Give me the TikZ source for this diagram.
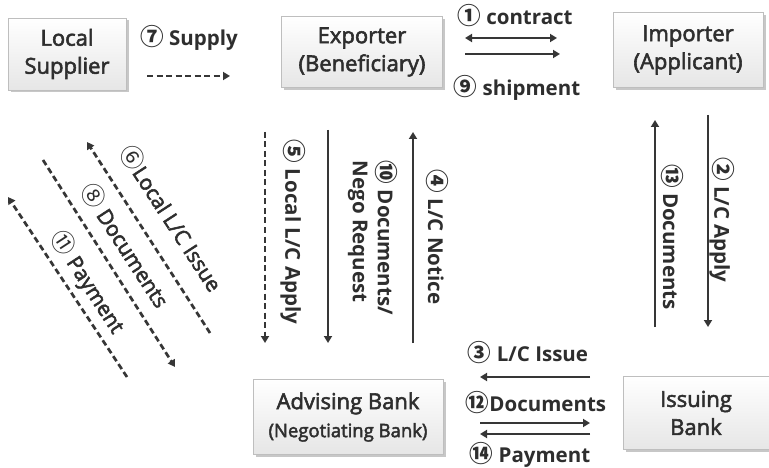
\documentclass[tikz,border=0pt]{standalone}
\usepackage{fontspec}
\setmainfont{Open Sans}
\newfontfamily\midfont[FakeBold=2.5]{Open Sans}
\newfontfamily\cnum{Noto Sans CJK KR}
\usetikzlibrary{shadows,arrows.meta}
\definecolor{inkgray}{HTML}{2E2E2E}
\definecolor{arrowgray}{HTML}{363636}
\definecolor{boxedge}{HTML}{BEBEBE}
\definecolor{boxlow}{HTML}{E6E6E6}
\newcommand\cn[1]{{\cnum\scalebox{1.15}{#1}}}
\tikzset{
  party/.style={draw=boxedge, line width=0.8pt, top color=white, bottom color=boxlow,
    align=center, text=inkgray, inner sep=0pt,
    font=\midfont\fontsize{22}{28}\selectfont,
    drop shadow={shadow xshift=2.5pt, shadow yshift=-2.5pt, fill=black, opacity=0.22}},
  lab/.style={text=inkgray, font=\fontsize{20.5}{25}\selectfont\bfseries, inner sep=0pt},
  dlab/.style={text=inkgray, font=\midfont\fontsize{21}{25}\selectfont, inner sep=0pt, rotate=-57},
  vlab/.style={lab, rotate=-90},
  flow/.style={draw=arrowgray, line width=2.7pt, -{Triangle[length=7pt,width=8pt]}},
  both/.style={flow, {Triangle[length=7pt,width=8pt]}-{Triangle[length=7pt,width=8pt]}},
  dflow/.style={flow, dash pattern=on 6pt off 3.5pt}
}
\begin{document}
\begin{tikzpicture}[x=1pt,y=-1pt]
\path[use as bounding box, fill=white] (0,0) rectangle (769,468);

% parties
\node[party, minimum width=118pt, minimum height=72pt] (sup) at (67,54) {Local\\Supplier};
\node[party, minimum width=161pt, minimum height=71pt] (exp) at (362,52) {Exporter\\(Beneficiary)};
\node[party, minimum width=150pt, minimum height=75pt] (imp) at (688,50) {Importer\\(Applicant)};
\node[party, minimum width=190pt, minimum height=75pt] (adv) at (348,417)
  {Advising Bank\\{\fontsize{18.5}{25}\selectfont(Negotiating Bank)}};
\node[party, minimum width=146pt, minimum height=73pt] (iss) at (696,413) {Issuing\\Bank};

% arrow end points
\coordinate (s1) at (147,76);  \coordinate (s2) at (230,76);
\coordinate (c1) at (465,38);  \coordinate (c2) at (557,38);
\coordinate (h1) at (465,54);  \coordinate (h2) at (560,54);
\coordinate (n1) at (413,343); \coordinate (n2) at (413,132);
\coordinate (d1) at (328,130); \coordinate (d2) at (328,343);
\coordinate (l1) at (265,132); \coordinate (l2) at (265,343);
\coordinate (a1) at (708,115); \coordinate (a2) at (708,327);
\coordinate (m1) at (655,327); \coordinate (m2) at (655,120);
\coordinate (i1) at (590,377); \coordinate (i2) at (480,377);
\coordinate (g1) at (480,423); \coordinate (g2) at (590,423);
\coordinate (p1) at (590,434); \coordinate (p2) at (480,434);
\coordinate (q1) at (210,333); \coordinate (q2) at (87,142);
\coordinate (r1) at (43,160);  \coordinate (r2) at (175,367);
\coordinate (t1) at (127,377); \coordinate (t2) at (8,197);

% top row
\node[lab] (supplyl) at (189,38) {\cn{⑦} Supply};
\draw[dflow] (s1) -- (s2);
\node[lab] (contractl) at (515,16) {\cn{①} contract};
\draw[both] (c1) -- (c2);
\draw[flow] (h1) -- (h2);
\node[lab] (shipl) at (517,88) {\cn{⑨} shipment};

% exporter / advising bank
\draw[flow] (n1) -- (n2);
\node[vlab] (noticel) at (437,237) {\cn{④} L/C Notice};
\draw[flow] (d1) -- (d2);
\node[vlab, align=left] (negol) at (373,238) {\cn{⑩} Documents/\\Nego Request};
\draw[dflow] (l1) -- (l2);
\node[vlab] (lapplyl) at (293,232) {\cn{⑤} Local L/C Apply};

% importer / issuing bank
\draw[flow] (a1) -- (a2);
\node[vlab] (applyl) at (722,220) {\cn{②} L/C Apply};
\draw[flow] (m1) -- (m2);
\node[vlab] (docsl) at (672,237) {\cn{⑬} Documents};

% between banks
\node[lab] (issuel) at (528,353) {\cn{③} L/C Issue};
\draw[flow] (i1) -- (i2);
\node[lab] (bankdocl) at (536,403) {\cn{⑫}Documents};
\draw[flow] (g1) -- (g2);
\draw[flow] (p1) -- (p2);
\node[lab] (payl) at (530,455) {\cn{⑭} Payment};

% local supplier
\draw[dflow] (q1) -- (q2);
\node[dlab] (localissuel) at (172,218) {\cn{⑥}Local L/C Issue};
\draw[dflow] (r1) -- (r2);
\node[dlab] (localdocl) at (126,245) {\cn{⑧} Documents};
\draw[dflow] (t1) -- (t2);
\node[dlab] (localpayl) at (88,282) {\cn{⑪} Payment};
\end{tikzpicture}
\end{document}
